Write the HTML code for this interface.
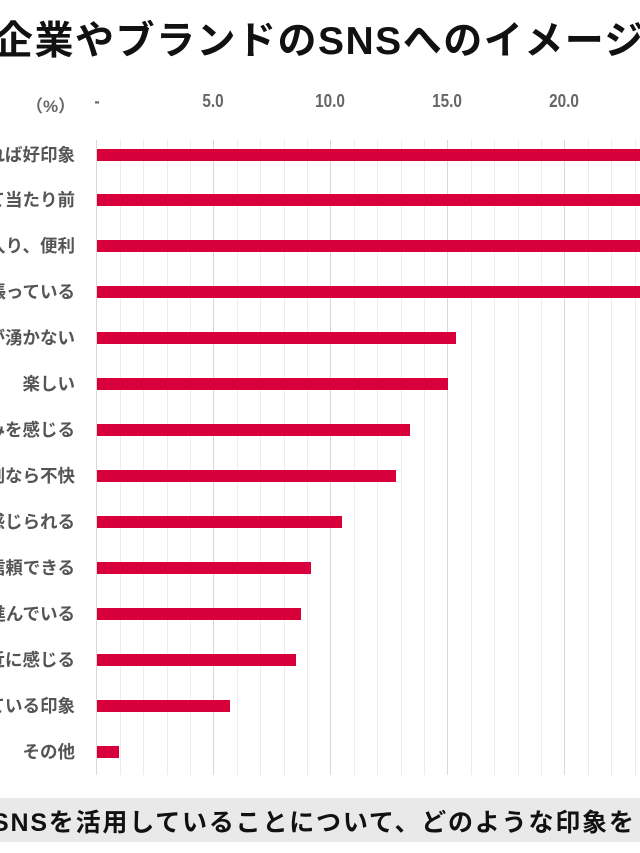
<!DOCTYPE html>
<html><head><meta charset="utf-8"><style>
body{margin:0;width:640px;height:853px;overflow:hidden;background:#fff;position:relative;font-family:"Liberation Sans","Noto Sans CJK JP",sans-serif;}
.t{position:absolute;white-space:nowrap;font-weight:bold}
.lab{position:absolute;right:565px;font-size:17.5px;color:#555;font-weight:bold;white-space:nowrap;line-height:20px}
.bar{position:absolute;left:97px;height:12px;background:#d7003a}
.tk{position:absolute;top:91px;font-size:18px;color:#666;font-weight:bold;transform:translateX(-50%) scaleX(0.85)}
</style></head><body>
<div class="t" style="left:-6px;top:10px;font-size:39px;color:#111;letter-spacing:1.5px">企業やブランドのSNSへのイメージ</div>
<div class="t" style="left:26px;top:92px;font-size:17px;color:#666">（%）</div>
<div class="tk" style="left:97px">-</div>
<div class="tk" style="left:213px">5.0</div>
<div class="tk" style="left:330px">10.0</div>
<div class="tk" style="left:447px">15.0</div>
<div class="tk" style="left:564px">20.0</div>
<svg style="position:absolute;left:0;top:0" width="640" height="853">
<g stroke="#ececec" stroke-width="1">
<line x1="120.5" y1="140" x2="120.5" y2="775"/><line x1="143.5" y1="140" x2="143.5" y2="775"/><line x1="167.5" y1="140" x2="167.5" y2="775"/><line x1="190.5" y1="140" x2="190.5" y2="775"/>
<line x1="237.5" y1="140" x2="237.5" y2="775"/><line x1="260.5" y1="140" x2="260.5" y2="775"/><line x1="284.5" y1="140" x2="284.5" y2="775"/><line x1="307.5" y1="140" x2="307.5" y2="775"/>
<line x1="354.5" y1="140" x2="354.5" y2="775"/><line x1="377.5" y1="140" x2="377.5" y2="775"/><line x1="401.5" y1="140" x2="401.5" y2="775"/><line x1="424.5" y1="140" x2="424.5" y2="775"/>
<line x1="471.5" y1="140" x2="471.5" y2="775"/><line x1="494.5" y1="140" x2="494.5" y2="775"/><line x1="518.5" y1="140" x2="518.5" y2="775"/><line x1="541.5" y1="140" x2="541.5" y2="775"/>
<line x1="588.5" y1="140" x2="588.5" y2="775"/><line x1="611.5" y1="140" x2="611.5" y2="775"/><line x1="635.5" y1="140" x2="635.5" y2="775"/>
</g>
<g stroke="#d8d8d8" stroke-width="1">
<line x1="213.5" y1="140" x2="213.5" y2="775"/><line x1="330.5" y1="140" x2="330.5" y2="775"/><line x1="447.5" y1="140" x2="447.5" y2="775"/><line x1="564.5" y1="140" x2="564.5" y2="775"/>
<line x1="96.5" y1="140" x2="96.5" y2="775"/>
</g>
</svg>
<div class="bar" style="top:149px;width:560px"></div>
<div class="bar" style="top:194px;width:560px"></div>
<div class="bar" style="top:240px;width:560px"></div>
<div class="bar" style="top:286px;width:560px"></div>
<div class="bar" style="top:332px;width:359px"></div>
<div class="bar" style="top:378px;width:351px"></div>
<div class="bar" style="top:424px;width:313px"></div>
<div class="bar" style="top:470px;width:299px"></div>
<div class="bar" style="top:516px;width:245px"></div>
<div class="bar" style="top:562px;width:214px"></div>
<div class="bar" style="top:608px;width:204px"></div>
<div class="bar" style="top:654px;width:199px"></div>
<div class="bar" style="top:700px;width:133px"></div>
<div class="bar" style="top:746px;width:22px"></div>
<div class="lab" style="top:145px">あれば好印象</div>
<div class="lab" style="top:190px">あって当たり前</div>
<div class="lab" style="top:236px">情報が手に入り、便利</div>
<div class="lab" style="top:282px">頑張っている</div>
<div class="lab" style="top:328px">特に興味が湧かない</div>
<div class="lab" style="top:374px">楽しい</div>
<div class="lab" style="top:420px">親しみを感じる</div>
<div class="lab" style="top:466px">過剰なら不快</div>
<div class="lab" style="top:512px">誠実さが感じられる</div>
<div class="lab" style="top:558px">信頼できる</div>
<div class="lab" style="top:604px">進んでいる</div>
<div class="lab" style="top:650px">身近に感じる</div>
<div class="lab" style="top:696px">宣伝している印象</div>
<div class="lab" style="top:742px">その他</div>
<div style="position:absolute;left:0;top:798px;width:640px;height:44px;background:#e9e9e9"></div>
<div class="t" style="left:-8px;top:803px;font-size:25px;color:#111;letter-spacing:1.8px">SNSを活用していることについて、どのような印象を</div>
</body></html>
